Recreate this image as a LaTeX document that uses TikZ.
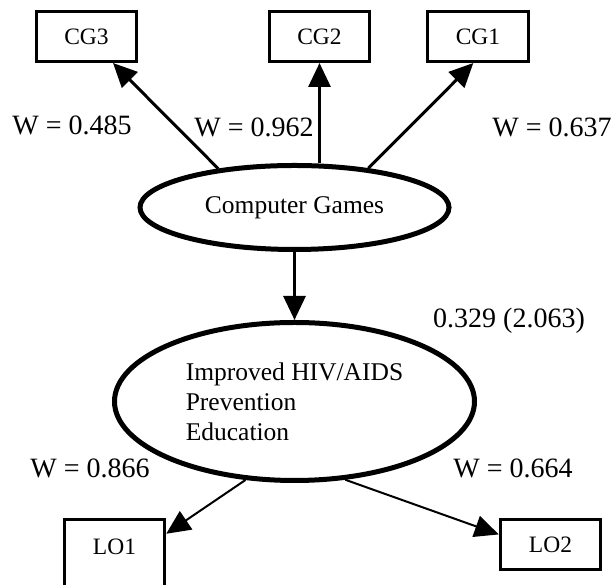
\documentclass[tikz,border=0pt]{standalone}
\usepackage{fontspec}
\setmainfont{Liberation Serif}
\usetikzlibrary{positioning,arrows.meta,shapes.geometric}

\begin{document}
\begin{tikzpicture}[x=1pt,y=1pt,on grid,-{Triangle[length=24pt,width=22pt]},line width=3pt,
	item node/.style={rectangle,draw,line width=3pt,minimum width=100.5pt,minimum height=50pt,inner sep=0pt,font=\fontsize{23.5}{28}\selectfont},
	factor node/.style={ellipse,draw,line width=5pt,inner sep=1pt,font=\fontsize{25.5}{30}\selectfont},
	weight node/.style={inner sep=0pt,text height=18.5pt,text depth=0pt,font=\fontsize{28}{32}\selectfont}]
		
		\useasboundingbox (0,0) rectangle (613,585);
		
		\node[factor node,minimum width=309pt,minimum height=84pt] (cg) at (294.5,377.5) {Computer Games};
		\node[factor node,minimum width=360pt,minimum height=158pt,align=left] (imp) [below=194pt of cg] {Improved HIV/AIDS\\Prevention\\Education};
		\node[item node] (cg3) [above left=171pt and 208pt of cg] {CG3};
		\node[item node] (cg2) [above right=171pt and 25pt of cg] {CG2};
		\node[item node] (cg1) [above right=171pt and 183.5pt of cg] {CG1};
		\node[item node,minimum height=79pt,text height=17pt,text depth=25pt] (lo1) [below left=157.5pt and 180pt of imp] {LO1};
		\node[item node] (lo2) [below right=143pt and 256pt of imp] {LO2};
		
		% weights and path coefficient
		\node[weight node] (w3) at (72,460) {W = 0.485};
		\node[weight node] (w2) at (254,458) {W = 0.962};
		\node[weight node] (w1) at (552,458) {W = 0.637};
		\node[weight node] (coef) at (509,267) {0.329 (2.063)};
		\node[weight node] (wlo1) at (90,117) {W = 0.866};
		\node[weight node] (wlo2) at (513,117) {W = 0.664};
		
		\path
		(cg.153) edge (cg3.-45)
		(cg2.south |- cg.north) edge (cg2.south)
		(cg.28) edge (cg1.-100)
		(cg) edge (imp)
		(imp.-122) edge[line width=2pt] (lo1.26)
		(imp.-57) edge[line width=2pt] (lo2.169);
		
\end{tikzpicture}
\end{document}
